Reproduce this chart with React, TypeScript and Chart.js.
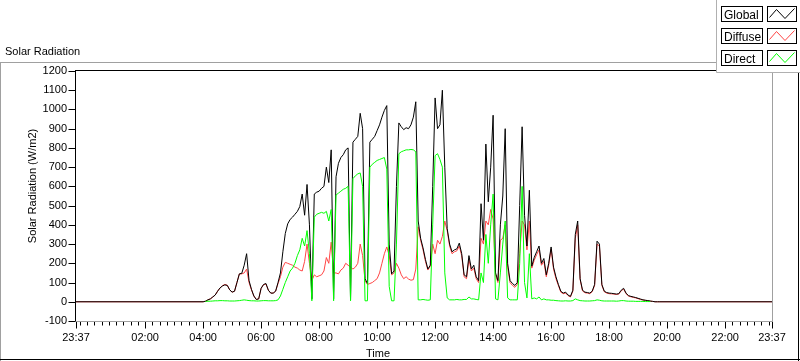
import React, { useEffect, useRef } from "react";
import { Chart, registerables } from "chart.js";

Chart.register(...registerables);

// ---- data (W/m2), one sample every 5 minutes from 04:00 to 19:45 ----
const axisStartClock = "23:37";
const firstSampleClock = "04:00";
const sampleStepMinutes = 5;

const globalWm2 = [
  0, 3, 10, 15, 25, 35, 55, 72, 82, 88, 85, 62,
  50, 55, 100, 145, 148, 190, 250, 110, 65, 30, 12, 15,
  70, 90, 95, 60, 45, 45, 55, 100, 150, 260, 355, 405,
  428, 440, 455, 470, 495, 560, 450, 610, 400, 15, 560, 570,
  575, 590, 600, 700, 620, 790, 15, 650, 720, 750, 765, 790,
  800, 10, 830, 845, 860, 980, 900, 120, 95, 830, 845, 860,
  890, 920, 960, 995, 1020, 300, 145, 160, 600, 930, 910, 895,
  905, 900, 920, 960, 1040, 420, 330, 280, 220, 170, 190, 600,
  1060, 900, 920, 1100, 700, 380, 300, 260, 270, 275, 305, 250,
  140, 130, 240, 170, 190, 130, 110, 510, 320, 820, 520, 700,
  970, 150, 110, 400, 550, 900, 200, 110, 95, 85, 100, 500,
  910, 450, 290, 580, 185, 230, 260, 290, 200, 225, 140, 200,
  285, 180, 130, 90, 55, 45, 50, 35, 28, 60, 350, 420,
  120, 60, 50, 48, 45, 55, 90, 315, 300, 90, 55, 48,
  45, 44, 42, 40, 42, 60, 70, 45, 32, 28, 25, 22,
  18, 14, 10, 8, 6, 4, 2, 0, 0, 0,
];

const diffuseWm2 = [
  0, 3, 10, 15, 25, 35, 55, 72, 84, 90, 86, 62,
  50, 55, 100, 145, 145, 150, 170, 100, 62, 30, 12, 15,
  70, 88, 92, 60, 45, 45, 55, 95, 130, 180, 205, 200,
  195, 190, 180, 175, 165, 160, 210, 300, 200, 110, 140, 130,
  135, 140, 160, 230, 200, 310, 150, 150, 145, 165, 175, 200,
  190, 180, 170, 180, 200, 300, 240, 110, 90, 95, 100, 110,
  120, 150, 200, 250, 285, 240, 140, 150, 200, 175, 140, 120,
  130, 118, 112, 115, 170, 390, 320, 270, 210, 165, 185, 300,
  250, 320, 300, 340, 420, 370, 290, 250, 260, 265, 290, 240,
  130, 120, 220, 160, 175, 120, 100, 330, 300, 420, 400, 480,
  430, 140, 100, 320, 330, 400, 180, 100, 85, 75, 90, 250,
  420, 400, 270, 420, 175, 215, 245, 270, 190, 210, 130, 190,
  275, 170, 120, 85, 50, 42, 45, 32, 25, 55, 330, 400,
  115, 56, 47, 45, 42, 52, 85, 300, 290, 85, 52, 45,
  42, 41, 40, 38, 40, 57, 66, 42, 30, 26, 23, 20,
  16, 12, 9, 7, 5, 3, 2, 0, 0, 0,
];

const directWm2: (number | null)[] = [
  null, 2, 3, 3, 4, 5, 5, 6, 6, 5, 5, 4,
  4, 4, 5, 6, 8, 10, 8, 6, 5, 5, 4, 4,
  5, 6, 6, 5, 5, 5, 6, 10, 30, 65, 100, 130,
  160, 175, 200, 240, 270, 330, 290, 370, 250, 5, 440, 455,
  460, 465, 460, 470, 420, 480, 5, 555, 565, 575, 585, 590,
  600, 5, 640, 655, 665, 670, 600, 5, 5, 700, 715, 725,
  735, 740, 745, 750, 690, 80, 5, 5, 300, 770, 780, 785,
  790, 790, 792, 790, 780, 10, 10, 12, 10, 8, 10, 400,
  760, 770, 740, 700, 150, 20, 10, 10, 10, 12, 10, 10,
  12, 12, 25, 15, 15, 12, 10, 150, 100, 350, 200, 400,
  560, 15, 10, 150, 300, 420, 20, 10, 10, 10, 10, 200,
  600, 100, 20, 250, 15, 20, 15, 25, 10, 15, 10, 10,
  8, 8, 6, 5, 4, 4, 5, 4, 4, 6, 15, 10,
  6, 5, 4, 4, 4, 5, 6, 10, 8, 5, 4, 4,
  4, 4, 4, 3, 4, 6, 6, 4, 3, 3, 3, 2,
  2, 2, 2, 1, 1, 1, null, null, null, null,
];

// night-time reading of Global / Diffuse at the window edges
const nightValueWm2 = 0;

const seriesNames = ["Global", "Diffuse", "Direct"];
const seriesColors = ["#000000", "#ff4444", "#00ff00"];

const xTickLabels = [
  "23:37", "02:00", "04:00", "06:00", "08:00", "10:00", "12:00",
  "14:00", "16:00", "18:00", "20:00", "22:00", "23:37",
];
const yMin = -100;
const yMax = 1200;
const yStep = 100;

const chartTitle = "Solar Radiation";
const yAxisTitle = "Solar Radiation (W/m2)";
const xAxisTitle = "Time";

// ---- helpers ----
const clockToMin = (s: string) => {
  const [h, m] = s.split(":").map(Number);
  return h * 60 + m;
};
const WINDOW = 1440;
const minutesFromStart = (clock: string) =>
  (clockToMin(clock) - clockToMin(axisStartClock) + WINDOW) % WINDOW;

const xTickMinutes = xTickLabels.map((l, i) =>
  i === xTickLabels.length - 1 ? WINDOW : minutesFromStart(l)
);
const firstSampleMin = minutesFromStart(firstSampleClock);
const sampleMinute = (i: number) => firstSampleMin + i * sampleStepMinutes;

const toPoints = (vals: (number | null)[], withNightEdges: boolean) => {
  const pts = vals.map((v, i) => ({ x: sampleMinute(i), y: v }));
  if (withNightEdges) {
    pts.unshift({ x: 0, y: nightValueWm2 });
    pts.push({ x: WINDOW, y: nightValueWm2 });
  }
  return pts;
};

const FONT = "'Liberation Sans', Arial, sans-serif";

const framePlugin = {
  id: "lvFrame",
  afterDraw(chart: any) {
    const ctx: CanvasRenderingContext2D = chart.ctx;
    const xs = chart.scales.x;
    const ys = chart.scales.y;
    const ca = chart.chartArea;
    const line = (x1: number, y1: number, x2: number, y2: number) => {
      ctx.beginPath();
      ctx.moveTo(x1, y1);
      ctx.lineTo(x2, y2);
      ctx.stroke();
    };
    ctx.save();
    ctx.lineWidth = 1;

    // outer panel
    ctx.strokeStyle = "#a0a0a0";
    line(0, 62.5, 800, 62.5);
    line(0.5, 62, 0.5, 361);
    ctx.strokeStyle = "#000";
    line(0, 359.5, 800, 359.5);
    line(798.5, 62, 798.5, 361);

    // plot frame
    const L = Math.round(ca.left) - 0.5;
    const R = Math.round(ca.right) + 0.5;
    const T = Math.round(ca.top) - 0.5;
    const B = Math.round(ca.bottom) + 0.5;
    ctx.strokeStyle = "#000";
    line(L - 0.5, T, R + 0.5, T);
    line(L, T - 0.5, L, B + 0.5);
    ctx.strokeStyle = "#a0a0a0";
    line(L - 0.5, B, R + 0.5, B);
    line(R, T - 0.5, R, B + 0.5);

    // x tick marks (major at labels, minor every 15 min on the clock)
    ctx.strokeStyle = "#000";
    const firstMinor = (15 - (clockToMin(axisStartClock) % 15)) % 15;
    for (let m = firstMinor; m < WINDOW; m += 15) {
      const px = Math.round(xs.getPixelForValue(m)) + 0.5;
      line(px, B + 0.5, px, B + 4);
    }
    xTickMinutes.forEach((m) => {
      const px = Math.round(xs.getPixelForValue(m)) + 0.5;
      line(px, B + 0.5, px, B + 7);
    });
    // y tick marks
    for (let v = yMin; v <= yMax; v += yStep) {
      const py = Math.round(ys.getPixelForValue(v)) + 0.5;
      line(L - 7, py, L, py);
    }

    // titles
    ctx.fillStyle = "#000";
    ctx.font = `11px ${FONT}`;
    ctx.textAlign = "left";
    ctx.textBaseline = "alphabetic";
    ctx.fillText(chartTitle, 5, 55);
    ctx.textAlign = "center";
    ctx.fillText(xAxisTitle, 378, 357);
    ctx.save();
    ctx.translate(36, 186);
    ctx.rotate(-Math.PI / 2);
    ctx.textBaseline = "alphabetic";
    ctx.fillText(yAxisTitle, 0, 0);
    ctx.restore();

    // legend
    ctx.fillStyle = "#fff";
    ctx.fillRect(717, 0, 83, 72);
    ctx.strokeStyle = "#b0b0b0";
    line(716.5, 0, 716.5, 72.5);
    line(716.5, 72.5, 800, 72.5);
    const rowTops = [6.5, 28.5, 50.5];
    seriesNames.forEach((name, r) => {
      const y0 = rowTops[r];
      ctx.strokeStyle = "#000";
      ctx.strokeRect(721.5, y0, 41, 15);
      ctx.strokeRect(767.5, y0, 29, 15);
      ctx.fillStyle = "#000";
      ctx.textAlign = "left";
      ctx.font = `12px ${FONT}`;
      ctx.fillText(name, 724, y0 + 12);
      ctx.strokeStyle = seriesColors[r];
      ctx.beginPath();
      ctx.moveTo(769.5, y0 + 11);
      ctx.lineTo(776.5, y0 + 3);
      ctx.lineTo(785, y0 + 12);
      ctx.lineTo(794.5, y0 + 2);
      ctx.stroke();
    });

    ctx.restore();
  },
};

export default function App() {
  const canvasRef = useRef<HTMLCanvasElement | null>(null);

  useEffect(() => {
    if (!canvasRef.current) return;
    const chart = new Chart(canvasRef.current, {
      type: "line",
      data: {
        datasets: [
          {
            label: seriesNames[0],
            data: toPoints(globalWm2, true),
            borderColor: seriesColors[0],
            borderWidth: 1,
            pointRadius: 0,
            tension: 0,
            order: 1,
          },
          {
            label: seriesNames[1],
            data: toPoints(diffuseWm2, true),
            borderColor: seriesColors[1],
            borderWidth: 1,
            pointRadius: 0,
            tension: 0,
            order: 2,
          },
          {
            label: seriesNames[2],
            data: toPoints(directWm2, false),
            borderColor: seriesColors[2],
            borderWidth: 1,
            pointRadius: 0,
            tension: 0,
            order: 0,
            spanGaps: false,
          },
        ] as any,
      },
      options: {
        animation: false,
        responsive: false,
        devicePixelRatio: 1,
        layout: { padding: { left: 0, top: 71, right: 28, bottom: 0 } },
        plugins: {
          legend: { display: false },
          tooltip: { enabled: false },
          title: { display: false },
        },
        scales: {
          x: {
            type: "linear",
            min: 0,
            max: WINDOW,
            offset: false,
            border: { display: false },
            grid: { display: false, drawTicks: false },
            afterBuildTicks: (scale: any) => {
              scale.ticks = xTickMinutes.map((v) => ({ value: v }));
            },
            afterFit: (scale: any) => {
              scale.height = 40;
            },
            ticks: {
              autoSkip: false,
              maxRotation: 0,
              minRotation: 0,
              padding: 10,
              color: "#000",
              font: { family: FONT, size: 11 },
              callback: (_v: any, i: number) => xTickLabels[i],
            },
          },
          y: {
            type: "linear",
            min: yMin,
            max: yMax,
            border: { display: false },
            grid: { display: false, drawTicks: false },
            afterFit: (scale: any) => {
              scale.width = 76;
            },
            ticks: {
              stepSize: yStep,
              padding: 9,
              color: "#000",
              font: { family: FONT, size: 11 },
              callback: (v: any) => String(v),
            },
          },
        },
      } as any,
      plugins: [framePlugin],
    });
    return () => chart.destroy();
  }, []);

  return (
    <div style={{ position: "absolute", left: 0, top: 0, width: 800, height: 361, background: "#fff" }}>
      <canvas ref={canvasRef} width={800} height={361} style={{ display: "block" }} />
    </div>
  );
}
